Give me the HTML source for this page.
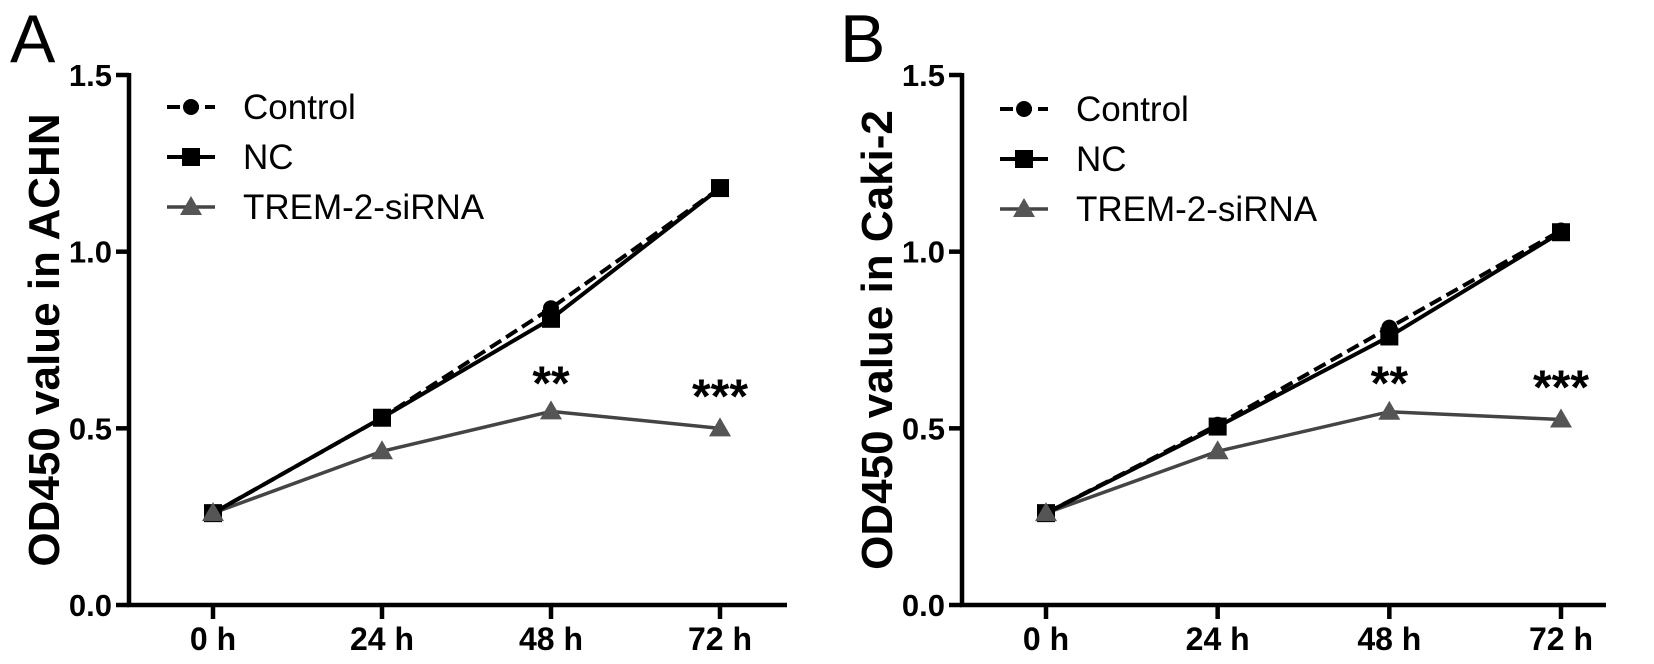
<!DOCTYPE html>
<html><head><meta charset="utf-8"><style>
body{margin:0;background:#fff}
svg{display:block;font-family:"Liberation Sans",Arial,sans-serif}
</style></head><body>
<svg id="c" width="1654" height="664" viewBox="0 0 1654 664"></svg>
<script>
const categories=["0 h","24 h","48 h","72 h"];
const yTicks=[0,0.5,1.0,1.5];
const yTickLabels=["0.0","0.5","1.0","1.5"];
const seriesNames=["Control","NC","TREM-2-siRNA"];
const controlA=[0.26,0.53,0.84,1.18];
const ncA=[0.26,0.53,0.81,1.18];
const sirnaA=[0.26,0.435,0.548,0.50];
const controlB=[0.26,0.51,0.785,1.06];
const ncB=[0.26,0.505,0.76,1.055];
const sirnaB=[0.26,0.435,0.547,0.525];
const starsA=["","","**","***"];
const starsB=["","","**","***"];

const NS="http://www.w3.org/2000/svg";
const svg=document.getElementById('c');
function mk(tag,attrs,parent){const e=document.createElementNS(NS,tag);for(const k in attrs)e.setAttribute(k,attrs[k]);(parent||svg).appendChild(e);return e;}

function panel(cfg){
  const g=mk('g',{});
  
  
  const y=v=>cfg.y0-(v/1.5)*(cfg.y0-cfg.y15);
  const x=i=>cfg.xs[0]+i*(cfg.xs[1]-cfg.xs[0])/3;
  const L=mk('text',{x:cfg.lx,y:62,'font-size':68},g);L.textContent=cfg.letter;
  
  const ya=mk('line',{x1:cfg.ax,y1:cfg.y15-2,x2:cfg.ax,y2:cfg.y0+2,stroke:'#000','stroke-width':4.5},g);
  
  const xa=mk('line',{x1:cfg.ax-2,y1:cfg.y0,x2:cfg.xend,y2:cfg.y0,stroke:'#000','stroke-width':4.5},g);
  
  yTicks.forEach((v,i)=>{
    mk('line',{x1:cfg.ax-13,y1:y(v),x2:cfg.ax,y2:y(v),stroke:'#000','stroke-width':4.5},g);
    const t=mk('text',{x:cfg.ax-17,y:y(v)+11,'font-size':31,'font-weight':'bold','text-anchor':'end'},g);
    t.textContent=yTickLabels[i];
    
  });
  categories.forEach((c,i)=>{
    mk('line',{x1:x(i),y1:cfg.y0,x2:x(i),y2:cfg.y0+14,stroke:'#000','stroke-width':4.5},g);
    const t=mk('text',{x:x(i),y:cfg.y0+45,'font-size':32,'font-weight':'bold','text-anchor':'middle'},g);
    t.textContent=c;
    
  });
  const yt=mk('text',{transform:`translate(${cfg.ax-70},${(cfg.y0+cfg.y15)/2}) rotate(-90)`,'font-size':44,'font-weight':'bold','text-anchor':'middle'},g);
  yt.textContent=cfg.title;
  
  const pts=arr=>arr.map((v,i)=>x(i)+','+y(v)).join(' ');
  const s=mk('polyline',{points:pts(cfg.sirna),fill:'none',stroke:'#444','stroke-width':3.5},g);
  
  const n=mk('polyline',{points:pts(cfg.nc),fill:'none',stroke:'#000','stroke-width':4},g);
  
  const c=mk('polyline',{points:pts(cfg.control),fill:'none',stroke:'#000','stroke-width':4,'stroke-dasharray':'13,6'},g);
  
  cfg.control.forEach((v,i)=>{const m=mk('circle',{cx:x(i),cy:y(v),r:8,fill:'#000'},g);});
  cfg.nc.forEach((v,i)=>{const m=mk('rect',{x:x(i)-9,y:y(v)-9,width:18,height:18,fill:'#000'},g);});
  cfg.sirna.forEach((v,i)=>{const cx=x(i),cy=y(v);const m=mk('polygon',{points:`${cx},${cy-11} ${cx+11},${cy+8} ${cx-11},${cy+8}`,fill:'#555'},g);});
  cfg.stars.forEach((st,i)=>{if(!st)return;const t=mk('text',{x:x(i),y:y(cfg.sirna[i])-(i==3?16:12),'font-size':48,'font-weight':'bold','text-anchor':'middle'},g);t.textContent=st;});
  const lx=cfg.ax+38;
  seriesNames.forEach((nm,i)=>{
    const ly=cfg.legY+i*50;
    const lg=mk('g',{},g);
    
    if(i==0){mk('line',{x1:lx,y1:ly,x2:lx+48,y2:ly,stroke:'#000','stroke-width':4,'stroke-dasharray':'13,6'},lg);mk('circle',{cx:lx+24,cy:ly,r:8},lg);}
    if(i==1){mk('line',{x1:lx,y1:ly,x2:lx+48,y2:ly,stroke:'#000','stroke-width':4},lg);mk('rect',{x:lx+15,y:ly-9,width:18,height:18},lg);}
    if(i==2){mk('line',{x1:lx,y1:ly,x2:lx+48,y2:ly,stroke:'#444','stroke-width':3.5},lg);mk('polygon',{points:`${lx+24},${ly-11} ${lx+35},${ly+8} ${lx+13},${ly+8}`,fill:'#555'},lg);}
    const t=mk('text',{x:lx+76,y:ly+12,'font-size':35},lg);t.textContent=nm;
  });
}
panel({letter:'A',lx:10,ax:129,y0:605,y15:75,xs:[213,720],xend:787,title:'OD450 value in ACHN',control:controlA,nc:ncA,sirna:sirnaA,stars:starsA,legY:107});
panel({letter:'B',lx:840,ax:962,y0:605,y15:75,xs:[1046,1561],xend:1606,title:'OD450 value in Caki-2',control:controlB,nc:ncB,sirna:sirnaB,stars:starsB,legY:109});
</script>
</body></html>
